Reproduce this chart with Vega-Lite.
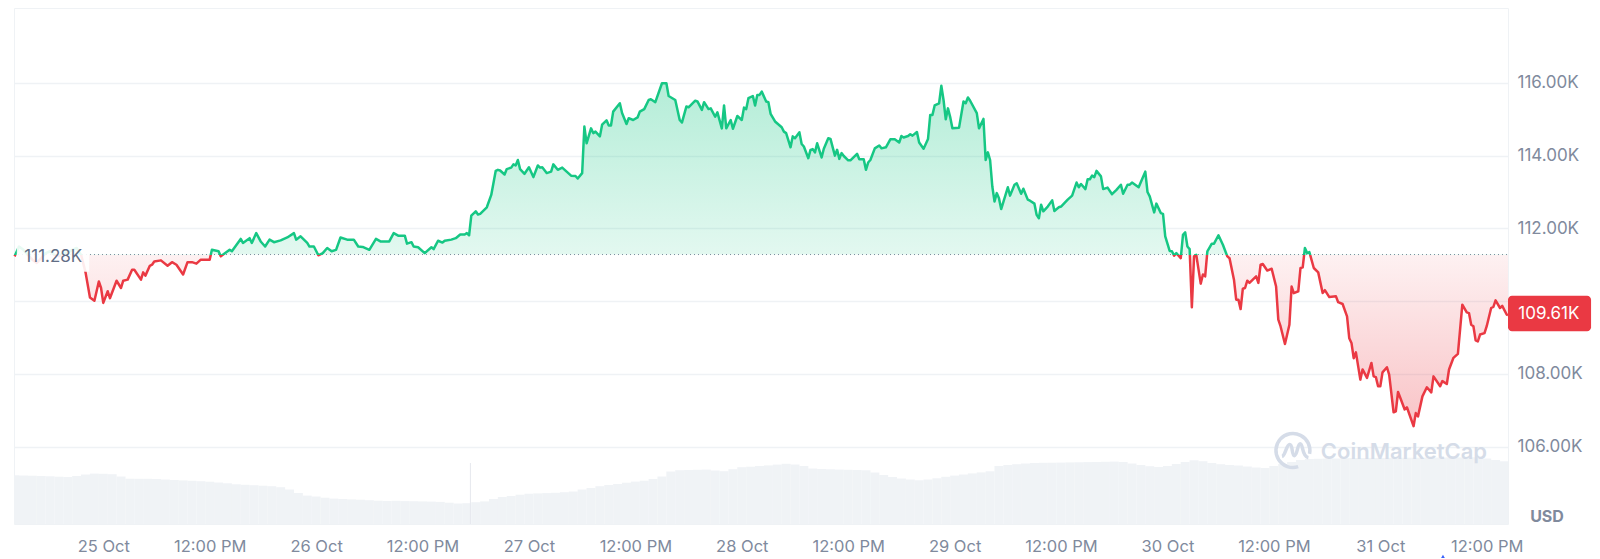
{
"$schema":"https://vega.github.io/schema/vega-lite/v6.json",
"width":1494,
"height":516,
"padding":{"left":13,"top":8,"right":5,"bottom":0},
"background":"white",
"datasets":{
"price":[
{"time":"2025-10-24T14:00","price":111.23},{"time":"2025-10-24T14:30","price":111.50},{"time":"2025-10-24T15:00","price":111.41},{"time":"2025-10-24T15:30","price":111.27},{"time":"2025-10-24T16:00","price":111.14},{"time":"2025-10-24T16:30","price":111.05},{"time":"2025-10-24T17:00","price":111.18},{"time":"2025-10-24T17:30","price":111.32},{"time":"2025-10-24T18:00","price":111.37},{"time":"2025-10-24T18:30","price":111.27},{"time":"2025-10-24T19:00","price":111.23},{"time":"2025-10-24T19:30","price":111.32},{"time":"2025-10-24T20:00","price":111.34},{"time":"2025-10-24T20:30","price":111.41},{"time":"2025-10-24T21:00","price":111.46},{"time":"2025-10-24T21:30","price":111.27},{"time":"2025-10-24T22:00","price":110.79},{"time":"2025-10-24T22:30","price":110.10},{"time":"2025-10-24T23:00","price":110.01},{"time":"2025-10-24T23:30","price":110.54},{"time":"2025-10-24T23:45","price":110.36},
{"time":"2025-10-25T00:00","price":109.95},{"time":"2025-10-25T00:30","price":110.27},{"time":"2025-10-25T00:45","price":110.08},{"time":"2025-10-25T01:30","price":110.56},{"time":"2025-10-25T02:00","price":110.36},{"time":"2025-10-25T02:15","price":110.56},{"time":"2025-10-25T02:45","price":110.59},{"time":"2025-10-25T03:15","price":110.86},{"time":"2025-10-25T03:30","price":110.86},{"time":"2025-10-25T04:15","price":110.59},{"time":"2025-10-25T04:30","price":110.79},{"time":"2025-10-25T04:45","price":110.70},{"time":"2025-10-25T05:15","price":110.97},{"time":"2025-10-25T05:30","price":111.00},{"time":"2025-10-25T05:45","price":111.09},{"time":"2025-10-25T06:30","price":111.12},{"time":"2025-10-25T07:15","price":110.97},{"time":"2025-10-25T07:45","price":111.07},{"time":"2025-10-25T08:15","price":111.00},{"time":"2025-10-25T09:00","price":110.73},{"time":"2025-10-25T09:30","price":111.07},{"time":"2025-10-25T10:00","price":111.07},{"time":"2025-10-25T10:30","price":111.03},{"time":"2025-10-25T11:00","price":111.14},{"time":"2025-10-25T12:00","price":111.14},{"time":"2025-10-25T12:15","price":111.41},{"time":"2025-10-25T13:00","price":111.37},{"time":"2025-10-25T13:15","price":111.23},{"time":"2025-10-25T13:45","price":111.32},{"time":"2025-10-25T14:15","price":111.41},{"time":"2025-10-25T14:30","price":111.37},{"time":"2025-10-25T15:30","price":111.71},{"time":"2025-10-25T15:45","price":111.60},{"time":"2025-10-25T16:30","price":111.73},{"time":"2025-10-25T16:45","price":111.60},{"time":"2025-10-25T17:15","price":111.87},{"time":"2025-10-25T17:45","price":111.64},{"time":"2025-10-25T18:15","price":111.50},{"time":"2025-10-25T18:45","price":111.69},{"time":"2025-10-25T19:15","price":111.62},{"time":"2025-10-25T20:00","price":111.67},{"time":"2025-10-25T20:45","price":111.75},{"time":"2025-10-25T21:30","price":111.87},{"time":"2025-10-25T21:45","price":111.69},{"time":"2025-10-25T22:15","price":111.78},{"time":"2025-10-25T23:00","price":111.60},{"time":"2025-10-25T23:15","price":111.50},{"time":"2025-10-25T23:45","price":111.50},
{"time":"2025-10-26T00:15","price":111.26},{"time":"2025-10-26T00:45","price":111.32},{"time":"2025-10-26T01:15","price":111.46},{"time":"2025-10-26T01:45","price":111.37},{"time":"2025-10-26T02:15","price":111.41},{"time":"2025-10-26T02:45","price":111.75},{"time":"2025-10-26T03:30","price":111.69},{"time":"2025-10-26T04:15","price":111.69},{"time":"2025-10-26T04:45","price":111.50},{"time":"2025-10-26T05:15","price":111.49},{"time":"2025-10-26T06:00","price":111.41},{"time":"2025-10-26T06:45","price":111.71},{"time":"2025-10-26T07:15","price":111.64},{"time":"2025-10-26T08:15","price":111.64},{"time":"2025-10-26T08:45","price":111.87},{"time":"2025-10-26T09:15","price":111.80},{"time":"2025-10-26T09:30","price":111.80},{"time":"2025-10-26T10:00","price":111.80},{"time":"2025-10-26T10:15","price":111.58},{"time":"2025-10-26T10:45","price":111.62},{"time":"2025-10-26T11:00","price":111.50},{"time":"2025-10-26T11:30","price":111.48},{"time":"2025-10-26T12:15","price":111.32},{"time":"2025-10-26T13:00","price":111.48},{"time":"2025-10-26T13:15","price":111.43},{"time":"2025-10-26T13:45","price":111.66},{"time":"2025-10-26T14:15","price":111.61},{"time":"2025-10-26T14:30","price":111.66},{"time":"2025-10-26T15:15","price":111.69},{"time":"2025-10-26T15:45","price":111.73},{"time":"2025-10-26T16:15","price":111.83},{"time":"2025-10-26T16:45","price":111.83},{"time":"2025-10-26T17:00","price":111.87},{"time":"2025-10-26T17:15","price":111.81},{"time":"2025-10-26T17:30","price":112.35},{"time":"2025-10-26T18:00","price":112.47},{"time":"2025-10-26T18:15","price":112.38},{"time":"2025-10-26T18:30","price":112.40},{"time":"2025-10-26T19:15","price":112.58},{"time":"2025-10-26T19:45","price":112.92},{"time":"2025-10-26T20:15","price":113.58},{"time":"2025-10-26T20:30","price":113.61},{"time":"2025-10-26T20:45","price":113.59},{"time":"2025-10-26T21:15","price":113.48},{"time":"2025-10-26T21:30","price":113.63},{"time":"2025-10-26T22:00","price":113.67},{"time":"2025-10-26T22:15","price":113.76},{"time":"2025-10-26T22:30","price":113.73},{"time":"2025-10-26T22:45","price":113.88},{"time":"2025-10-26T23:00","price":113.63},{"time":"2025-10-26T23:30","price":113.50},
{"time":"2025-10-27T00:00","price":113.68},{"time":"2025-10-27T00:30","price":113.41},{"time":"2025-10-27T01:00","price":113.73},{"time":"2025-10-27T01:15","price":113.67},{"time":"2025-10-27T01:30","price":113.68},{"time":"2025-10-27T02:00","price":113.52},{"time":"2025-10-27T02:30","price":113.56},{"time":"2025-10-27T02:45","price":113.76},{"time":"2025-10-27T03:15","price":113.61},{"time":"2025-10-27T03:45","price":113.67},{"time":"2025-10-27T04:15","price":113.56},{"time":"2025-10-27T04:45","price":113.45},{"time":"2025-10-27T05:15","price":113.44},{"time":"2025-10-27T05:30","price":113.37},{"time":"2025-10-27T06:00","price":113.52},{"time":"2025-10-27T06:15","price":114.80},{"time":"2025-10-27T06:30","price":114.34},{"time":"2025-10-27T07:00","price":114.75},{"time":"2025-10-27T07:15","price":114.62},{"time":"2025-10-27T07:30","price":114.66},{"time":"2025-10-27T08:00","price":114.53},{"time":"2025-10-27T08:15","price":114.85},{"time":"2025-10-27T08:45","price":114.97},{"time":"2025-10-27T09:00","price":114.83},{"time":"2025-10-27T09:15","price":114.83},{"time":"2025-10-27T09:30","price":115.21},{"time":"2025-10-27T10:15","price":115.44},{"time":"2025-10-27T10:30","price":115.17},{"time":"2025-10-27T11:00","price":114.87},{"time":"2025-10-27T11:15","price":115.03},{"time":"2025-10-27T11:45","price":114.98},{"time":"2025-10-27T12:15","price":115.05},{"time":"2025-10-27T12:30","price":115.21},{"time":"2025-10-27T13:00","price":115.28},{"time":"2025-10-27T13:30","price":115.53},{"time":"2025-10-27T13:45","price":115.55},{"time":"2025-10-27T14:15","price":115.47},{"time":"2025-10-27T15:00","price":115.99},{"time":"2025-10-27T15:30","price":115.99},{"time":"2025-10-27T15:45","price":115.64},{"time":"2025-10-27T16:30","price":115.53},{"time":"2025-10-27T17:00","price":114.98},{"time":"2025-10-27T17:15","price":114.91},{"time":"2025-10-27T17:45","price":115.35},{"time":"2025-10-27T18:00","price":115.33},{"time":"2025-10-27T18:45","price":115.51},{"time":"2025-10-27T19:00","price":115.49},{"time":"2025-10-27T19:30","price":115.26},{"time":"2025-10-27T19:45","price":115.47},{"time":"2025-10-27T20:15","price":115.28},{"time":"2025-10-27T20:30","price":115.30},{"time":"2025-10-27T21:00","price":115.07},{"time":"2025-10-27T21:15","price":115.19},{"time":"2025-10-27T21:45","price":114.75},{"time":"2025-10-27T22:00","price":115.38},{"time":"2025-10-27T22:15","price":114.75},{"time":"2025-10-27T22:45","price":114.98},{"time":"2025-10-27T23:00","price":114.74},{"time":"2025-10-27T23:30","price":115.09},
{"time":"2025-10-28T00:00","price":114.98},{"time":"2025-10-28T00:15","price":115.32},{"time":"2025-10-28T00:30","price":115.28},{"time":"2025-10-28T00:45","price":115.58},{"time":"2025-10-28T01:15","price":115.64},{"time":"2025-10-28T01:30","price":115.38},{"time":"2025-10-28T01:45","price":115.67},{"time":"2025-10-28T02:00","price":115.67},{"time":"2025-10-28T02:15","price":115.76},{"time":"2025-10-28T02:45","price":115.49},{"time":"2025-10-28T03:00","price":115.47},{"time":"2025-10-28T03:15","price":115.15},{"time":"2025-10-28T03:45","price":114.94},{"time":"2025-10-28T04:30","price":114.78},{"time":"2025-10-28T04:45","price":114.66},{"time":"2025-10-28T05:00","price":114.62},{"time":"2025-10-28T05:30","price":114.23},{"time":"2025-10-28T05:45","price":114.53},{"time":"2025-10-28T06:00","price":114.48},{"time":"2025-10-28T06:30","price":114.64},{"time":"2025-10-28T06:45","price":114.32},{"time":"2025-10-28T07:00","price":114.25},{"time":"2025-10-28T07:30","price":113.93},{"time":"2025-10-28T07:45","price":114.16},{"time":"2025-10-28T08:00","price":114.18},{"time":"2025-10-28T08:15","price":114.09},{"time":"2025-10-28T08:30","price":114.34},{"time":"2025-10-28T09:00","price":113.95},{"time":"2025-10-28T09:15","price":114.19},{"time":"2025-10-28T09:45","price":114.48},{"time":"2025-10-28T10:00","price":114.46},{"time":"2025-10-28T10:30","price":114.00},{"time":"2025-10-28T10:45","price":114.16},{"time":"2025-10-28T11:00","price":113.91},{"time":"2025-10-28T11:15","price":114.07},{"time":"2025-10-28T11:30","price":113.99},{"time":"2025-10-28T12:00","price":113.87},{"time":"2025-10-28T12:15","price":113.87},{"time":"2025-10-28T13:00","price":114.05},{"time":"2025-10-28T13:15","price":113.90},{"time":"2025-10-28T13:45","price":113.90},{"time":"2025-10-28T14:00","price":113.61},{"time":"2025-10-28T14:15","price":113.81},{"time":"2025-10-28T14:30","price":113.88},{"time":"2025-10-28T15:00","price":114.20},{"time":"2025-10-28T15:30","price":114.28},{"time":"2025-10-28T15:45","price":114.20},{"time":"2025-10-28T16:15","price":114.23},{"time":"2025-10-28T16:45","price":114.45},{"time":"2025-10-28T17:15","price":114.45},{"time":"2025-10-28T17:45","price":114.36},{"time":"2025-10-28T18:00","price":114.54},{"time":"2025-10-28T18:15","price":114.50},{"time":"2025-10-28T18:45","price":114.54},{"time":"2025-10-28T19:00","price":114.59},{"time":"2025-10-28T19:15","price":114.55},{"time":"2025-10-28T19:45","price":114.65},{"time":"2025-10-28T20:00","price":114.36},{"time":"2025-10-28T20:30","price":114.19},{"time":"2025-10-28T21:00","price":114.46},{"time":"2025-10-28T21:15","price":115.12},{"time":"2025-10-28T21:30","price":115.12},{"time":"2025-10-28T21:45","price":115.38},{"time":"2025-10-28T22:15","price":115.44},{"time":"2025-10-28T22:30","price":115.92},{"time":"2025-10-28T22:45","price":115.53},{"time":"2025-10-28T23:00","price":115.00},{"time":"2025-10-28T23:15","price":115.30},{"time":"2025-10-28T23:30","price":115.06},{"time":"2025-10-28T23:45","price":114.75},
{"time":"2025-10-29T00:30","price":114.77},{"time":"2025-10-29T01:00","price":115.49},{"time":"2025-10-29T01:15","price":115.44},{"time":"2025-10-29T01:30","price":115.60},{"time":"2025-10-29T01:45","price":115.51},{"time":"2025-10-29T02:30","price":115.17},{"time":"2025-10-29T02:45","price":114.75},{"time":"2025-10-29T03:15","price":115.01},{"time":"2025-10-29T03:30","price":113.88},{"time":"2025-10-29T03:45","price":114.09},{"time":"2025-10-29T04:00","price":113.88},{"time":"2025-10-29T04:15","price":113.15},{"time":"2025-10-29T04:30","price":112.74},{"time":"2025-10-29T04:45","price":112.97},{"time":"2025-10-29T05:00","price":112.83},{"time":"2025-10-29T05:15","price":112.53},{"time":"2025-10-29T06:00","price":113.13},{"time":"2025-10-29T06:15","price":112.90},{"time":"2025-10-29T06:45","price":113.20},{"time":"2025-10-29T07:00","price":113.24},{"time":"2025-10-29T07:30","price":112.95},{"time":"2025-10-29T07:45","price":113.09},{"time":"2025-10-29T08:15","price":112.79},{"time":"2025-10-29T08:30","price":112.76},{"time":"2025-10-29T09:00","price":112.68},{"time":"2025-10-29T09:15","price":112.37},{"time":"2025-10-29T09:30","price":112.28},{"time":"2025-10-29T09:45","price":112.65},{"time":"2025-10-29T10:00","price":112.47},{"time":"2025-10-29T10:30","price":112.60},{"time":"2025-10-29T11:00","price":112.77},{"time":"2025-10-29T11:15","price":112.48},{"time":"2025-10-29T11:45","price":112.58},{"time":"2025-10-29T12:00","price":112.60},{"time":"2025-10-29T12:45","price":112.79},{"time":"2025-10-29T13:15","price":112.90},{"time":"2025-10-29T13:45","price":113.26},{"time":"2025-10-29T14:00","price":113.13},{"time":"2025-10-29T14:15","price":113.22},{"time":"2025-10-29T14:45","price":113.08},{"time":"2025-10-29T15:00","price":113.35},{"time":"2025-10-29T15:15","price":113.35},{"time":"2025-10-29T15:30","price":113.45},{"time":"2025-10-29T15:45","price":113.41},{"time":"2025-10-29T16:00","price":113.58},{"time":"2025-10-29T16:30","price":113.43},{"time":"2025-10-29T16:45","price":113.08},{"time":"2025-10-29T17:15","price":113.12},{"time":"2025-10-29T17:45","price":112.94},{"time":"2025-10-29T18:15","price":113.06},{"time":"2025-10-29T18:45","price":113.20},{"time":"2025-10-29T19:00","price":112.95},{"time":"2025-10-29T19:30","price":113.20},{"time":"2025-10-29T19:45","price":113.20},{"time":"2025-10-29T20:00","price":113.26},{"time":"2025-10-29T20:45","price":113.13},{"time":"2025-10-29T21:30","price":113.56},{"time":"2025-10-29T21:45","price":113.00},{"time":"2025-10-29T22:00","price":112.88},{"time":"2025-10-29T22:30","price":112.44},{"time":"2025-10-29T22:45","price":112.68},{"time":"2025-10-29T23:15","price":112.42},{"time":"2025-10-29T23:30","price":112.40},{"time":"2025-10-29T23:45","price":111.78},
{"time":"2025-10-30T00:15","price":111.38},{"time":"2025-10-30T00:30","price":111.37},{"time":"2025-10-30T00:45","price":111.25},{"time":"2025-10-30T01:00","price":111.32},{"time":"2025-10-30T01:30","price":111.18},{"time":"2025-10-30T01:45","price":111.82},{"time":"2025-10-30T02:00","price":111.89},{"time":"2025-10-30T02:15","price":111.50},{"time":"2025-10-30T02:30","price":111.43},{"time":"2025-10-30T02:45","price":109.83},{"time":"2025-10-30T03:00","price":111.23},{"time":"2025-10-30T03:15","price":111.27},{"time":"2025-10-30T03:45","price":110.48},{"time":"2025-10-30T04:00","price":110.73},{"time":"2025-10-30T04:15","price":110.68},{"time":"2025-10-30T04:30","price":111.37},{"time":"2025-10-30T05:00","price":111.58},{"time":"2025-10-30T05:15","price":111.58},{"time":"2025-10-30T05:45","price":111.81},{"time":"2025-10-30T06:15","price":111.55},{"time":"2025-10-30T06:45","price":111.23},{"time":"2025-10-30T07:00","price":111.18},{"time":"2025-10-30T07:30","price":110.59},{"time":"2025-10-30T07:45","price":110.04},{"time":"2025-10-30T08:00","price":110.04},{"time":"2025-10-30T08:15","price":109.78},{"time":"2025-10-30T08:30","price":110.34},{"time":"2025-10-30T08:45","price":110.36},{"time":"2025-10-30T09:00","price":110.56},{"time":"2025-10-30T09:15","price":110.50},{"time":"2025-10-30T10:00","price":110.68},{"time":"2025-10-30T10:15","price":110.50},{"time":"2025-10-30T10:30","price":111.00},{"time":"2025-10-30T10:45","price":111.02},{"time":"2025-10-30T11:15","price":110.84},{"time":"2025-10-30T11:45","price":110.89},{"time":"2025-10-30T12:15","price":110.40},{"time":"2025-10-30T12:30","price":109.49},{"time":"2025-10-30T12:45","price":109.31},{"time":"2025-10-30T13:15","price":108.82},{"time":"2025-10-30T13:45","price":109.35},{"time":"2025-10-30T14:00","price":110.40},{"time":"2025-10-30T14:15","price":110.22},{"time":"2025-10-30T14:45","price":110.27},{"time":"2025-10-30T15:00","price":110.91},{"time":"2025-10-30T15:15","price":110.93},{"time":"2025-10-30T15:30","price":111.46},{"time":"2025-10-30T15:45","price":111.32},{"time":"2025-10-30T16:00","price":111.35},{"time":"2025-10-30T16:30","price":110.91},{"time":"2025-10-30T17:00","price":110.79},{"time":"2025-10-30T17:30","price":110.22},{"time":"2025-10-30T17:45","price":110.30},{"time":"2025-10-30T18:15","price":110.11},{"time":"2025-10-30T19:00","price":110.13},{"time":"2025-10-30T19:15","price":109.97},{"time":"2025-10-30T19:45","price":109.92},{"time":"2025-10-30T20:15","price":109.58},{"time":"2025-10-30T20:30","price":108.98},{"time":"2025-10-30T20:45","price":108.85},{"time":"2025-10-30T21:00","price":108.43},{"time":"2025-10-30T21:15","price":108.59},{"time":"2025-10-30T21:45","price":107.84},{"time":"2025-10-30T22:00","price":108.12},{"time":"2025-10-30T22:30","price":107.89},{"time":"2025-10-30T23:00","price":108.30},{"time":"2025-10-30T23:15","price":107.93},{"time":"2025-10-30T23:30","price":107.91},{"time":"2025-10-30T23:45","price":107.66},
{"time":"2025-10-31T00:00","price":107.66},{"time":"2025-10-31T00:15","price":108.04},{"time":"2025-10-31T00:45","price":108.18},{"time":"2025-10-31T01:00","price":107.98},{"time":"2025-10-31T01:30","price":106.94},{"time":"2025-10-31T01:45","price":106.97},{"time":"2025-10-31T02:00","price":107.50},{"time":"2025-10-31T02:15","price":107.34},{"time":"2025-10-31T02:45","price":107.02},{"time":"2025-10-31T03:00","price":107.08},{"time":"2025-10-31T03:45","price":106.56},{"time":"2025-10-31T04:00","price":106.92},{"time":"2025-10-31T04:15","price":106.83},{"time":"2025-10-31T04:45","price":107.38},{"time":"2025-10-31T05:15","price":107.63},{"time":"2025-10-31T05:45","price":107.49},{"time":"2025-10-31T06:00","price":107.93},{"time":"2025-10-31T06:45","price":107.66},{"time":"2025-10-31T07:00","price":107.80},{"time":"2025-10-31T07:30","price":107.72},{"time":"2025-10-31T07:45","price":108.12},{"time":"2025-10-31T08:15","price":108.44},{"time":"2025-10-31T08:45","price":108.55},{"time":"2025-10-31T09:15","price":109.90},{"time":"2025-10-31T09:45","price":109.69},{"time":"2025-10-31T10:00","price":109.67},{"time":"2025-10-31T10:15","price":109.35},{"time":"2025-10-31T10:30","price":109.31},{"time":"2025-10-31T10:45","price":108.92},{"time":"2025-10-31T11:00","price":108.89},{"time":"2025-10-31T11:15","price":109.08},{"time":"2025-10-31T11:45","price":109.12},{"time":"2025-10-31T12:00","price":109.31},{"time":"2025-10-31T12:30","price":109.81},{"time":"2025-10-31T12:45","price":109.84},{"time":"2025-10-31T13:00","price":110.02},{"time":"2025-10-31T13:30","price":109.81},{"time":"2025-10-31T13:45","price":109.87},{"time":"2025-10-31T14:15","price":109.63},{"time":"2025-10-31T14:24","price":109.61}
],
"volume":[
{"time":"2025-10-24T14:00","volume":48.7},{"time":"2025-10-24T15:00","volume":48.5},{"time":"2025-10-24T16:00","volume":48.3},{"time":"2025-10-24T17:00","volume":48},{"time":"2025-10-24T18:00","volume":47.7},{"time":"2025-10-24T19:00","volume":47.3},{"time":"2025-10-24T20:00","volume":47},{"time":"2025-10-24T21:00","volume":48},{"time":"2025-10-24T22:00","volume":49.5},{"time":"2025-10-24T23:00","volume":50.4},
{"time":"2025-10-25T00:00","volume":50.2},{"time":"2025-10-25T01:00","volume":49.8},{"time":"2025-10-25T02:00","volume":47.5},{"time":"2025-10-25T03:00","volume":45.3},{"time":"2025-10-25T04:00","volume":45.2},{"time":"2025-10-25T05:00","volume":45.2},{"time":"2025-10-25T06:00","volume":45},{"time":"2025-10-25T07:00","volume":44.5},{"time":"2025-10-25T08:00","volume":44},{"time":"2025-10-25T09:00","volume":43.6},{"time":"2025-10-25T10:00","volume":43.2},{"time":"2025-10-25T11:00","volume":42.8},{"time":"2025-10-25T12:00","volume":42.3},{"time":"2025-10-25T13:00","volume":41.5},{"time":"2025-10-25T14:00","volume":40.7},{"time":"2025-10-25T15:00","volume":39.7},{"time":"2025-10-25T16:00","volume":39.2},{"time":"2025-10-25T17:00","volume":38.8},{"time":"2025-10-25T18:00","volume":38.3},{"time":"2025-10-25T19:00","volume":37.8},{"time":"2025-10-25T20:00","volume":36.8},{"time":"2025-10-25T21:00","volume":34.5},{"time":"2025-10-25T22:00","volume":31},{"time":"2025-10-25T23:00","volume":28.4},
{"time":"2025-10-26T00:00","volume":27.5},{"time":"2025-10-26T01:00","volume":26.3},{"time":"2025-10-26T02:00","volume":25.4},{"time":"2025-10-26T03:00","volume":25},{"time":"2025-10-26T04:00","volume":24.6},{"time":"2025-10-26T05:00","volume":24.3},{"time":"2025-10-26T06:00","volume":23.8},{"time":"2025-10-26T07:00","volume":23.3},{"time":"2025-10-26T08:00","volume":23},{"time":"2025-10-26T09:00","volume":23.2},{"time":"2025-10-26T10:00","volume":22.9},{"time":"2025-10-26T11:00","volume":22.8},{"time":"2025-10-26T12:00","volume":22.6},{"time":"2025-10-26T13:00","volume":22.4},{"time":"2025-10-26T14:00","volume":22.1},{"time":"2025-10-26T15:00","volume":21.3},{"time":"2025-10-26T16:00","volume":20.5},{"time":"2025-10-26T17:00","volume":20.8},{"time":"2025-10-26T18:00","volume":21.8},{"time":"2025-10-26T19:00","volume":22.6},{"time":"2025-10-26T20:00","volume":25},{"time":"2025-10-26T21:00","volume":27},{"time":"2025-10-26T22:00","volume":28},{"time":"2025-10-26T23:00","volume":29.3},
{"time":"2025-10-27T00:00","volume":30.2},{"time":"2025-10-27T01:00","volume":30.6},{"time":"2025-10-27T02:00","volume":30.9},{"time":"2025-10-27T03:00","volume":31.2},{"time":"2025-10-27T04:00","volume":31.8},{"time":"2025-10-27T05:00","volume":32.5},{"time":"2025-10-27T06:00","volume":34.5},{"time":"2025-10-27T07:00","volume":36},{"time":"2025-10-27T08:00","volume":37.8},{"time":"2025-10-27T09:00","volume":39},{"time":"2025-10-27T10:00","volume":40},{"time":"2025-10-27T11:00","volume":41.3},{"time":"2025-10-27T12:00","volume":42.4},{"time":"2025-10-27T13:00","volume":43.3},{"time":"2025-10-27T14:00","volume":45},{"time":"2025-10-27T15:00","volume":47.5},{"time":"2025-10-27T16:00","volume":52.5},{"time":"2025-10-27T17:00","volume":53.8},{"time":"2025-10-27T18:00","volume":54},{"time":"2025-10-27T19:00","volume":54.2},{"time":"2025-10-27T20:00","volume":54.4},{"time":"2025-10-27T21:00","volume":53.5},{"time":"2025-10-27T22:00","volume":52.8},{"time":"2025-10-27T23:00","volume":54.8},
{"time":"2025-10-28T00:00","volume":56.8},{"time":"2025-10-28T01:00","volume":57.3},{"time":"2025-10-28T02:00","volume":58},{"time":"2025-10-28T03:00","volume":58.6},{"time":"2025-10-28T04:00","volume":59.4},{"time":"2025-10-28T05:00","volume":60.2},{"time":"2025-10-28T06:00","volume":59.5},{"time":"2025-10-28T07:00","volume":58},{"time":"2025-10-28T08:00","volume":55.5},{"time":"2025-10-28T09:00","volume":55},{"time":"2025-10-28T10:00","volume":54.7},{"time":"2025-10-28T11:00","volume":54.4},{"time":"2025-10-28T12:00","volume":54.2},{"time":"2025-10-28T13:00","volume":54},{"time":"2025-10-28T14:00","volume":53.7},{"time":"2025-10-28T15:00","volume":51.5},{"time":"2025-10-28T16:00","volume":49},{"time":"2025-10-28T17:00","volume":47},{"time":"2025-10-28T18:00","volume":45.5},{"time":"2025-10-28T19:00","volume":44.5},{"time":"2025-10-28T20:00","volume":43.7},{"time":"2025-10-28T21:00","volume":44.5},{"time":"2025-10-28T22:00","volume":45.7},{"time":"2025-10-28T23:00","volume":47.2},
{"time":"2025-10-29T00:00","volume":48.4},{"time":"2025-10-29T01:00","volume":49.5},{"time":"2025-10-29T02:00","volume":50.6},{"time":"2025-10-29T03:00","volume":51.6},{"time":"2025-10-29T04:00","volume":52.7},{"time":"2025-10-29T05:00","volume":58},{"time":"2025-10-29T06:00","volume":59},{"time":"2025-10-29T07:00","volume":59.8},{"time":"2025-10-29T08:00","volume":60.5},{"time":"2025-10-29T09:00","volume":61},{"time":"2025-10-29T10:00","volume":61.2},{"time":"2025-10-29T11:00","volume":61.3},{"time":"2025-10-29T12:00","volume":61.4},{"time":"2025-10-29T13:00","volume":61.6},{"time":"2025-10-29T14:00","volume":61.7},{"time":"2025-10-29T15:00","volume":61.9},{"time":"2025-10-29T16:00","volume":62},{"time":"2025-10-29T17:00","volume":62.2},{"time":"2025-10-29T18:00","volume":62.4},{"time":"2025-10-29T19:00","volume":62},{"time":"2025-10-29T20:00","volume":60.5},{"time":"2025-10-29T21:00","volume":59},{"time":"2025-10-29T22:00","volume":57.8},{"time":"2025-10-29T23:00","volume":57},
{"time":"2025-10-30T00:00","volume":58},{"time":"2025-10-30T01:00","volume":60},{"time":"2025-10-30T02:00","volume":62},{"time":"2025-10-30T03:00","volume":63.7},{"time":"2025-10-30T04:00","volume":62.8},{"time":"2025-10-30T05:00","volume":61},{"time":"2025-10-30T06:00","volume":59.8},{"time":"2025-10-30T07:00","volume":59},{"time":"2025-10-30T08:00","volume":58.5},{"time":"2025-10-30T09:00","volume":57.5},{"time":"2025-10-30T10:00","volume":56.5},{"time":"2025-10-30T11:00","volume":56},{"time":"2025-10-30T12:00","volume":58},{"time":"2025-10-30T13:00","volume":60},{"time":"2025-10-30T14:00","volume":62},{"time":"2025-10-30T15:00","volume":64},{"time":"2025-10-30T16:00","volume":65},{"time":"2025-10-30T17:00","volume":65.2},{"time":"2025-10-30T18:00","volume":65.4},{"time":"2025-10-30T19:00","volume":65.5},{"time":"2025-10-30T20:00","volume":65.8},{"time":"2025-10-30T21:00","volume":66},{"time":"2025-10-30T22:00","volume":66},{"time":"2025-10-30T23:00","volume":66.1},
{"time":"2025-10-31T00:00","volume":66.1},{"time":"2025-10-31T01:00","volume":66.2},{"time":"2025-10-31T02:00","volume":66.2},{"time":"2025-10-31T03:00","volume":66.3},{"time":"2025-10-31T04:00","volume":66.3},{"time":"2025-10-31T05:00","volume":66.4},{"time":"2025-10-31T06:00","volume":66.4},{"time":"2025-10-31T07:00","volume":66.5},{"time":"2025-10-31T08:00","volume":66.6},{"time":"2025-10-31T09:00","volume":66.6},{"time":"2025-10-31T10:00","volume":66.7},{"time":"2025-10-31T11:00","volume":66.7},{"time":"2025-10-31T12:00","volume":65.5},{"time":"2025-10-31T13:00","volume":64},{"time":"2025-10-31T14:00","volume":62.7}
]
},
"encoding":{
"x":{"field":"time","type":"temporal","scale":{"type":"utc","domain":["2025-10-24T13:56Z","2025-10-31T14:24Z"],"nice":false,"padding":0},
"axis":{"title":null,"grid":false,"domain":false,"ticks":false,"labelFont":"Inter","labelFontSize":16.5,"labelColor":"#808a9d","labelPadding":14,"labelOverlap":false,"labelFlush":false,
"values":["2025-10-25T00:00Z","2025-10-25T12:00Z","2025-10-26T00:00Z","2025-10-26T12:00Z","2025-10-27T00:00Z","2025-10-27T12:00Z","2025-10-28T00:00Z","2025-10-28T12:00Z","2025-10-29T00:00Z","2025-10-29T12:00Z","2025-10-30T00:00Z","2025-10-30T12:00Z","2025-10-31T00:00Z","2025-10-31T12:00Z"],
"labelExpr":"utchours(datum.value) == 0 ? utcFormat(datum.value, '%-d %b') : utcFormat(datum.value, '%-I:%M %p')"}}
},
"layer":[
{
"encoding":{"y":{"field":"volume","type":"quantitative","scale":{"domain":[0,516]},"axis":null}},
"layer":[
{"data":{"name":"volume","format":{"parse":{"time":"utc:'%Y-%m-%dT%H:%M'"}}},"mark":{"type":"bar","size":9,"color":"#f0f3f6","clip":true}},
{"data":{"values":[{"time":"2025-10-26T17:24Z","volume":61}]},"mark":{"type":"bar","size":1,"color":"#e6e9ee"}}
]
},
{
"encoding":{"y":{"field":"price","type":"quantitative","scale":{"domain":[103.87,118.06],"nice":false},
"axis":{"title":null,"orient":"right","domain":false,"ticks":false,"values":[106,108,110,112,114,116],"labelExpr":"datum.value == 110 ? '' : format(datum.value, '.2f') + 'K'","labelFont":"Inter","labelFontSize":17,"labelColor":"#808a9d","labelPadding":9,"grid":true,"gridColor":"#eff2f5","gridWidth":1.5}}},
"layer":[
{"data":{"values":[{"time":"2025-10-31T02:40Z","price":105.84,"label":"CoinMarketCap"}]},"mark":{"type":"text","font":"Inter","fontSize":22,"fontWeight":600,"color":"#d5dce8","baseline":"middle"},"encoding":{"text":{"field":"label"}}},
{"data":{"values":[{"time":"2025-10-30T14:10Z","price":105.89}]},"mark":{"type":"point","shape":"M0.97,0.2 A1,1 0 1 0 0.3,0.95 M-0.65,0.35 C-0.45,0.3 -0.4,-0.35 -0.2,-0.35 C0,-0.35 -0.1,0.3 0.08,0.3 C0.25,0.3 0.25,-0.4 0.42,-0.4 C0.6,-0.4 0.5,0.35 0.9,0.42","filled":false,"size":1156,"stroke":"#d5dce8","strokeWidth":3.5,"opacity":1}},
{"data":{"values":[{"time":"2025-10-24T13:56Z","end":"2025-10-31T14:24Z","price":111.28}]},"mark":{"type":"rule","color":"#808a9d","strokeWidth":1,"strokeDash":[1,3]},"encoding":{"x2":{"field":"end"}}},
{"data":{"name":"price","format":{"parse":{"time":"utc:'%Y-%m-%dT%H:%M'"}}},"layer":[
{"mark":{"type":"area","interpolate":"linear","fill":{"gradient":"linear","x1":0,"y1":0,"x2":0,"y2":1,"stops":[{"offset":0,"color":"rgba(22,199,132,0.32)"},{"offset":0.4995,"color":"rgba(22,199,132,0.12)"},{"offset":0.4995,"color":"rgba(234,57,67,0.07)"},{"offset":1,"color":"rgba(234,57,67,0.3)"}]}},"encoding":{"y2":{"datum":111.28}}},
{"mark":{"type":"line","interpolate":"linear","strokeWidth":2.5,"strokeJoin":"round","stroke":{"gradient":"linear","x1":0,"y1":0,"x2":0,"y2":1,"stops":[{"offset":0,"color":"#16c784"},{"offset":0.4995,"color":"#16c784"},{"offset":0.4995,"color":"#ea3943"},{"offset":1,"color":"#ea3943"}]}}}
]},
{"data":{"values":[{"time":"2025-10-24T14:15Z","end":"2025-10-24T22:25Z","price":111.58,"low":110.81}]},"mark":{"type":"rect","color":"white","opacity":0.9},"encoding":{"x2":{"field":"end"},"y2":{"field":"low"}}},
{"data":{"values":[{"time":"2025-10-24T18:22Z","price":111.21,"label":"111.28K"}]},"mark":{"type":"text","font":"Inter","fontSize":17,"color":"#616e85","baseline":"middle"},"encoding":{"text":{"field":"label"}}},
{"data":{"values":[{"time":"2025-10-31T14:24Z","end":"2025-10-31T23:46Z","price":110.15,"low":109.17}]},"mark":{"type":"rect","color":"#ea3943","cornerRadius":4},"encoding":{"x2":{"field":"end"},"y2":{"field":"low"}}},
{"data":{"values":[{"time":"2025-10-31T19:00Z","price":109.65,"label":"109.61K"}]},"mark":{"type":"text","font":"Inter","fontSize":17,"color":"white","baseline":"middle"},"encoding":{"text":{"field":"label"}}},
{"data":{"values":[{"time":"2025-10-31T18:48Z","price":104.05,"label":"USD"}]},"mark":{"type":"text","font":"Inter","fontSize":16,"fontWeight":700,"color":"#808a9d","baseline":"middle"},"encoding":{"text":{"field":"label"}}},
{"data":{"values":[{"time":"2025-10-31T07:04Z","price":102.98}]},"mark":{"type":"point","shape":"triangle-up","filled":true,"size":14,"color":"#3861fb","opacity":1}}
]
}
],
"resolve":{"scale":{"y":"independent"}},
"config":{"view":{"stroke":"#eff2f5"},"style":{"cell":{"stroke":"#eff2f5"}},"legend":{"disable":true}}
}
